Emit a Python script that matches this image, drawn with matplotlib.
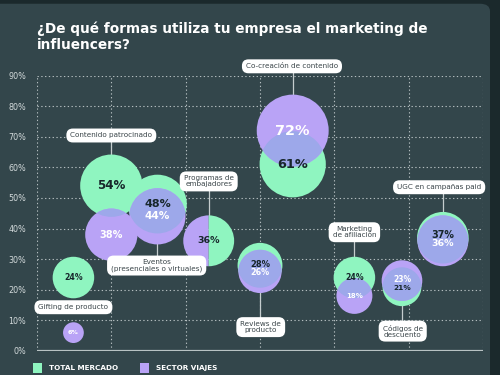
import matplotlib.pyplot as plt
from matplotlib.patches import Circle, Wedge, Rectangle, FancyBboxPatch
from matplotlib.transforms import ScaledTranslation
import numpy as np

# datos
categorias = ["Gifting de producto", "Contenido patrocinado",
              "Eventos\n(presenciales o virtuales)", "Programas de\nembajadores",
              "Co-creación de contenido", "Reviews de\nproducto",
              "Marketing\nde afiliación", "Códigos de\ndescuento",
              "UGC en campañas paid"]
total_mercado = [24, 54, 48, 36, 61, 28, 24, 21, 37]
sector_viajes = [6, 38, 44, 36, 72, 26, 18, 23, 36]
y_ticks = [0, 10, 20, 30, 40, 50, 60, 70, 80, 90]

# posiciones en el gráfico (layout)
bub_x = [0.49, 1.0, 1.62, 2.31, 3.44, 3.0, 4.27, 4.91, 5.46]
lab_pos = [(0.49, 14.3), (1.0, 70.4), (1.61, 28.0), (2.31, 55.4), (3.43, 93.0),
           (3.01, 7.8), (4.27, 38.8), (4.92, 6.5), (5.41, 53.5)]

VERDE = '#8ff5c0'
MORADO = '#b9a3f6'
SOLAPE = '#9da8ea'
FONDO = '#33464b'
OSCURO = '#17262b'

fig = plt.figure(figsize=(5, 3.75), dpi=100)
fig.patch.set_facecolor('#1b292c')
card = FancyBboxPatch((-0.05, -0.05), 0.04 + 0.99, 0.04 + 1.0,
                      boxstyle='round,pad=0,rounding_size=0.02',
                      transform=fig.transFigure, facecolor=FONDO,
                      edgecolor='none', zorder=-5)
fig.patches.append(card)

ax = fig.add_axes([37 / 500, 24 / 375, 446 / 500, 275.5 / 375])
ax.set_facecolor('none')
ax.set_xlim(0, 6)
ax.set_ylim(0, 90)
for s in ax.spines.values():
    s.set_visible(False)
ax.set_xticks([])
ax.set_yticks(y_ticks)
ax.set_yticklabels([f'{t}%' for t in y_ticks], fontsize=5.8, color='#d3dadb')
ax.tick_params(axis='y', length=0, pad=8)

# rejilla punteada
grid_kw = dict(color='#b3bdbf', lw=0.8, ls=(0, (1.2, 2.2)), zorder=1)
for t in y_ticks[1:]:
    ax.plot([0, 6], [t, t], **grid_kw)
for gx in range(7):
    ax.plot([gx, gx], [0, 90], **grid_kw)
ax.plot([0, 6], [0, 0], color='#b8c2c3', lw=1.6, zorder=1, solid_capstyle='butt')


def radio(v):
    # area proporcional al valor, en pulgadas
    return 4.24 * np.sqrt(v) / 100


def trans(x, y):
    return fig.dpi_scale_trans + ScaledTranslation(x, y, ax.transData)


def fs(v):
    return max(4.6, 3.2 + 0.1 * v)


for i, cat in enumerate(categorias):
    x = bub_x[i]
    t, v = total_mercado[i], sector_viajes[i]
    lx, ly = lab_pos[i]

    # linea conectora
    ax.plot([x, x], [ly, (t + v) / 2], color='#c5cdce', lw=0.9, zorder=2,
            clip_on=False)

    if t == v:
        w1 = Wedge((0, 0), radio(v), 90, 270, facecolor=MORADO, edgecolor='none',
                   transform=trans(x, v), zorder=3)
        w2 = Wedge((0, 0), radio(t), 270, 90, facecolor=VERDE, edgecolor='none',
                   transform=trans(x, t), zorder=3)
        ax.add_patch(w1)
        ax.add_patch(w2)
        ax.text(x, t, f'{t}%', ha='center', va='center', fontsize=fs(t),
                fontweight='bold', color=OSCURO, zorder=6)
    else:
        c_t = Circle((0, 0), radio(t), facecolor=VERDE, edgecolor='none',
                     transform=trans(x, t), zorder=3)
        c_v = Circle((0, 0), radio(v), facecolor=MORADO, edgecolor='none',
                     transform=trans(x, v), zorder=4)
        c_o = Circle((0, 0), radio(v), facecolor=SOLAPE, edgecolor='none',
                     transform=trans(x, v), zorder=5)
        ax.add_patch(c_t)
        ax.add_patch(c_v)
        ax.add_patch(c_o)
        c_o.set_clip_path(c_t)

        sep = max(abs(t - v) / 2, 1.4)
        mid = (t + v) / 2
        yt = mid + sep if t > v else mid - sep
        yv = mid + sep if v > t else mid - sep
        ax.text(x, yt, f'{t}%', ha='center', va='center', fontsize=fs(t),
                fontweight='bold', color=OSCURO, zorder=6)
        ax.text(x, yv, f'{v}%', ha='center', va='center', fontsize=fs(v),
                fontweight='bold', color='white', zorder=6)

    ax.text(lx, ly, cat, ha='center', va='center', fontsize=5.2,
            color='#3a4549', linespacing=1.0, zorder=8, clip_on=False,
            bbox=dict(boxstyle='round,pad=0.55,rounding_size=0.9',
                      facecolor='white', edgecolor='none'))

# titulo
fig.text(37 / 500, 1 - 21 / 375,
         '¿De qué formas utiliza tu empresa el marketing de\ninfluencers?',
         ha='left', va='top', fontsize=9.8, fontweight='heavy', color='white',
         linespacing=1.2)

# leyenda
for x0, col, lab in [(33, VERDE, 'TOTAL MERCADO'), (140, MORADO, 'SECTOR VIAJES')]:
    fig.patches.append(Rectangle((x0 / 500, 1 - 373 / 375), 9 / 500, 10 / 375,
                                 transform=fig.transFigure, facecolor=col,
                                 edgecolor='none'))
    fig.text((x0 + 16) / 500, 1 - 368 / 375, lab, ha='left', va='center',
             fontsize=5.2, fontweight='bold', color='white')

plt.savefig('out.png', dpi=100, facecolor=fig.get_facecolor())
